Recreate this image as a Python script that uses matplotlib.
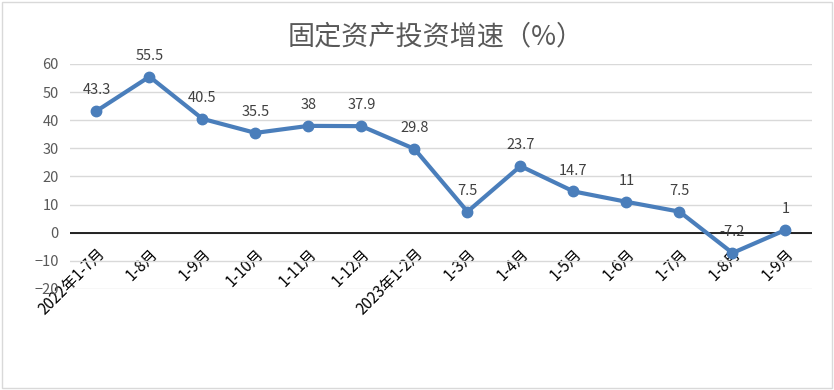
import matplotlib.pyplot as plt
from matplotlib.patches import Rectangle

plt.rcParams['font.family'] = ['Noto Sans CJK SC', 'DejaVu Sans']

periods = ['2022年1-7月', '1-8月', '1-9月', '1-10月', '1-11月', '1-12月',
           '2023年1-2月', '1-3月', '1-4月', '1-5月', '1-6月', '1-7月', '1-8月', '1-9月']
growth = [43.3, 55.5, 40.5, 35.5, 38, 37.9, 29.8, 7.5, 23.7, 14.7, 11, 7.5, -7.2, 1]
labels = ['43.3', '55.5', '40.5', '35.5', '38', '37.9', '29.8', '7.5', '23.7', '14.7', '11', '7.5', '-7.2', '1']

fig = plt.figure(figsize=(8.34, 3.9), dpi=100)
fig.patches.append(Rectangle((0.002, 0.004), 0.996, 0.992, transform=fig.transFigure,
                             fill=False, edgecolor='#d9d9d9', lw=1))
ax = fig.add_axes([0.0839, 0.259, 0.8897, 0.5769])

x = range(len(periods))
ax.plot(x, growth, color='#4a7ebb', lw=3, marker='o', ms=7.5, zorder=3)
for xi, v, t in zip(x, growth, labels):
    ax.annotate(t, (xi, v), xytext=(0, 10), textcoords='offset points',
                ha='center', va='bottom', fontsize=10.5, color='#404040')

ax.set_xlim(-0.5, len(periods) - 0.5)
ax.set_ylim(-20, 60)
ax.set_yticks(range(-20, 61, 10))
ax.grid(axis='y', color='#d9d9d9', lw=1)
ax.set_axisbelow(True)
ax.axhline(0, color='black', lw=1.2, zorder=2)

for s in ['top', 'right', 'left']:
    ax.spines[s].set_visible(False)
# category labels hang from the zero line, as in the original
ax.spines['bottom'].set_position(('data', 0))
ax.spines['bottom'].set_visible(False)

ax.set_xticks(list(x))
ax.set_xticklabels(periods, rotation=45, ha='right', rotation_mode='anchor', fontsize=11)
ax.tick_params(axis='x', length=0, pad=9)
ax.tick_params(axis='y', length=0, labelsize=10.5, labelcolor='#595959', pad=8)

fig.text(0.523, 0.905, '固定资产投资增速（%）', ha='center', va='center',
         fontsize=19.5, color='#595959')

plt.savefig('out.png')
